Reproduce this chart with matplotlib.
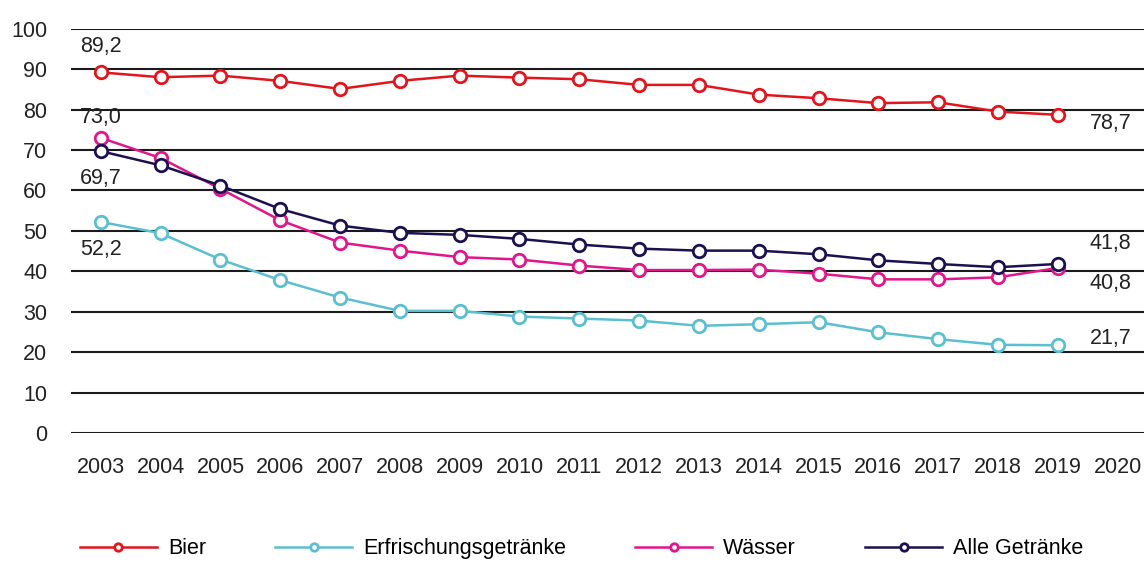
import matplotlib
matplotlib.use('Agg')
from matplotlib import pyplot as plt

plt.rcParams['font.family'] = ['Liberation Sans Narrow', 'Liberation Sans', 'DejaVu Sans']

years = [str(y) for y in range(2003, 2021)]

bier = [89.2, 88.0, 88.4, 87.1, 85.1, 87.1, 88.4, 87.9, 87.5, 86.1, 86.1, 83.7, 82.8, 81.6, 81.8, 79.5, 78.7]
erfrischung = [52.2, 49.4, 42.9, 37.8, 33.5, 30.2, 30.2, 28.8, 28.3, 27.8, 26.5, 26.9, 27.4, 24.9, 23.2, 21.8, 21.7]
waesser = [73.0, 68.0, 60.4, 52.6, 47.1, 45.1, 43.5, 42.9, 41.4, 40.3, 40.3, 40.4, 39.4, 38.0, 38.0, 38.5, 40.8]
alle = [69.7, 66.2, 61.2, 55.4, 51.3, 49.5, 49.0, 48.0, 46.6, 45.6, 45.1, 45.1, 44.2, 42.7, 41.8, 41.0, 41.8]

series = [
    ('Bier', bier, '#e3141c'),
    ('Erfrischungsgetränke', erfrischung, '#5bbfcf'),
    ('Wässer', waesser, '#e0168a'),
    ('Alle Getränke', alle, '#1b1150'),
]

fig = plt.figure(figsize=(11.44, 5.63), dpi=100)
ax = fig.add_axes([0.062, 0.231, 0.941, 0.718])

x = list(range(len(years)))
for name, vals, col in series:
    ax.plot(x[:len(vals)], vals, color=col, lw=1.8, marker='o', ms=9,
            mfc='white', mec=col, mew=2.0, label=name, zorder=3)

# start / end value labels
fs = 15.5
tc = '#222222'
ax.annotate('89,2', (0, bier[0]), xytext=(0, 11), textcoords='offset points', ha='center', va='bottom', fontsize=fs, color=tc)
ax.annotate('73,0', (0, waesser[0]), xytext=(0, 7), textcoords='offset points', ha='center', va='bottom', fontsize=fs, color=tc)
ax.annotate('69,7', (0, alle[0]), xytext=(0, -12), textcoords='offset points', ha='center', va='top', fontsize=fs, color=tc)
ax.annotate('52,2', (0, erfrischung[0]), xytext=(0, -12), textcoords='offset points', ha='center', va='top', fontsize=fs, color=tc)
ax.annotate('78,7', (16, bier[-1]), xytext=(38, -6), textcoords='offset points', ha='center', va='center', fontsize=fs, color=tc)
ax.annotate('41,8', (16, alle[-1]), xytext=(38, 15), textcoords='offset points', ha='center', va='center', fontsize=fs, color=tc)
ax.annotate('40,8', (16, waesser[-1]), xytext=(38, -11), textcoords='offset points', ha='center', va='center', fontsize=fs, color=tc)
ax.annotate('21,7', (16, erfrischung[-1]), xytext=(38, 5), textcoords='offset points', ha='center', va='center', fontsize=fs, color=tc)

ax.set_xlim(-0.5, len(years) - 0.5)
ax.set_ylim(0, 100)
ax.set_yticks(range(0, 101, 10))
ax.set_xticks(x)
ax.set_xticklabels(years)
ax.yaxis.grid(True, color='#1a1a1a', lw=1.5)
ax.set_axisbelow(True)
for sp in ax.spines.values():
    sp.set_visible(False)
ax.tick_params(axis='both', length=0, labelsize=fs, colors=tc)
ax.tick_params(axis='x', pad=17)
ax.tick_params(axis='y', pad=17)

fig.legend(loc='center left', bbox_to_anchor=(0.062, 0.025), ncol=4, frameon=False,
           fontsize=fs, handlelength=3.6, handletextpad=0.5, columnspacing=3.2,
           borderaxespad=0, markerscale=0.6)

fig.savefig('out.png', dpi=100)
